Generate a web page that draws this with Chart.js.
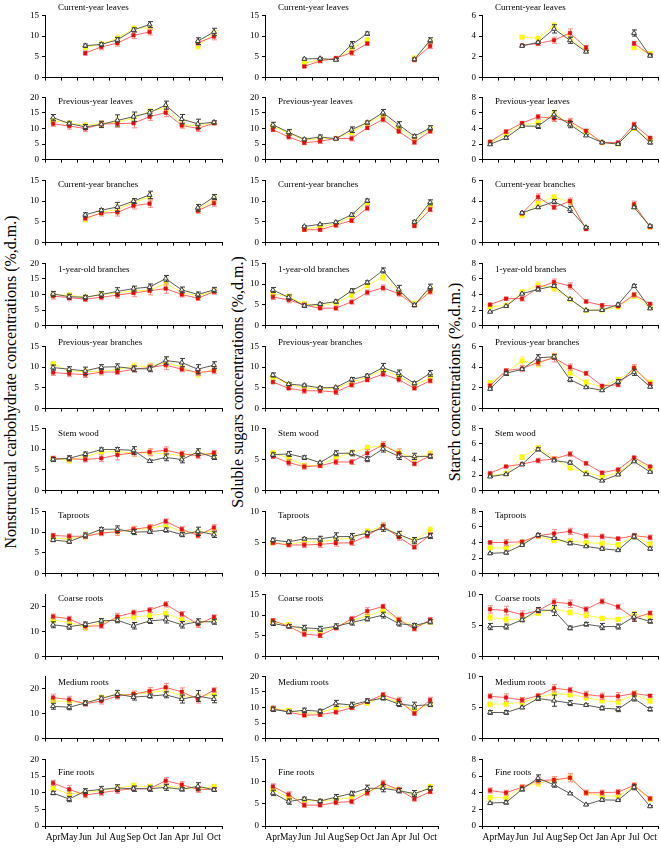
<!DOCTYPE html>
<html>
<head>
<meta charset="utf-8">
<script src="https://cdn.jsdelivr.net/npm/chart.js@4.4.0/dist/chart.umd.min.js"></script>
<style>
body { margin: 0; background: #fff; }
#wrap { position: relative; width: 661px; height: 850px; overflow: hidden; font-family: 'Liberation Serif', 'Times New Roman', serif; color: #000; }
.panel { position: absolute; }
.ptitle { position: absolute; font-size: 9px; line-height: 1; white-space: nowrap; }
.ytitle { position: absolute; font-size: 16px; line-height: 1; white-space: nowrap; transform: translate(-50%, -50%) rotate(-90deg); }
</style>
</head>
<body>
<div id="wrap"></div>
<script>
const _ = null;
const months = ['Apr', 'May', 'Jun', 'Jul', 'Aug', 'Sep', 'Oct', 'Jan', 'Apr', 'Jul', 'Oct'];
const organs = ['Current-year leaves', 'Previous-year leaves', 'Current-year branches', '1-year-old branches',
    'Previous-year branches', 'Stem wood', 'Taproots', 'Coarse roots', 'Medium roots', 'Fine roots'];

const yTitles = ['Nonstructural carbohydrate concentrations (%,d.m.)', 'Soluble sugars concentrations (%,d.m.)', 'Starch concentrations (%,d.m.)'];

const nscMax = [15, 20, 15, 20, 15, 15, 15, 25, 25, 20];
const nscStep = [5, 5, 5, 5, 5, 5, 5, 5, 5, 5];
const ssMax = [15, 20, 15, 15, 15, 10, 10, 15, 20, 15];
const ssStep = [5, 5, 5, 5, 5, 5, 5, 5, 5, 5];
const starchMax = [6, 8, 6, 8, 6, 8, 8, 10, 10, 8];
const starchStep = [2, 2, 2, 2, 2, 2, 2, 5, 5, 2];

// nonstructural carbohydrates
const nscRed = [
    [_, _, 5.9, 7.4, 8.3, 10.2, 11.0, _, _, 8.4, 9.9],
    [11.5, 10.8, 10.0, 11.4, 11.6, 11.7, 13.8, 15.1, 11.0, 10.0, 11.7],
    [_, _, 5.9, 7.1, 7.3, 8.9, 9.4, _, _, 7.7, 9.5],
    [9.5, 9.0, 8.5, 9.1, 9.8, 10.5, 11.2, 11.9, 10.0, 8.8, 10.9],
    [8.7, 8.4, 8.2, 8.8, 8.8, 9.5, 9.9, 10.5, 9.5, 8.7, 9.1],
    [7.8, 7.7, 7.5, 7.8, 8.6, 9.1, 9.3, 9.75, 8.9, 8.4, 9.1],
    [9.2, 9.0, 9.0, 9.75, 10.1, 10.7, 11.2, 12.6, 10.7, 9.2, 11.1],
    [16.1, 15.2, 12.2, 12.4, 16.1, 17.7, 18.7, 21.0, 17.1, 13.0, 15.9],
    [16.5, 15.7, 14.0, 15.1, 17.1, 17.9, 19.1, 20.6, 18.8, 15.9, 19.5],
    [12.9, 11.0, 9.3, 10.0, 10.7, 11.2, 11.2, 13.6, 12.4, 11.0, 11.0]
];
const nscYellow = [
    [_, _, 7.2, 8.1, 9.5, 11.9, 12.0, _, _, 7.6, 10.7],
    [12.6, 11.8, 11.0, 11.6, 12.1, 13.3, 15.5, 16.6, 11.4, 10.8, 11.8],
    [_, _, 5.5, 7.3, 8.0, 9.7, 11.0, _, _, 7.9, 10.4],
    [9.9, 9.8, 9.1, 10.0, 10.5, 11.2, 11.4, 13.5, 10.7, 9.5, 11.2],
    [10.8, 9.1, 8.9, 9.0, 9.4, 10.2, 10.2, 11.1, 10.0, 8.3, 9.6],
    [7.7, 7.3, 8.2, 9.3, 9.4, 9.1, 9.1, 8.9, 8.4, 9.1, 8.6],
    [8.6, 8.3, 9.1, 9.8, 10.2, 10.6, 10.9, 11.6, 10.1, 10.0, 10.2],
    [14.6, 13.8, 11.6, 13.8, 15.2, 15.9, 16.5, 17.3, 14.9, 13.4, 14.6],
    [15.2, 14.9, 14.3, 16.5, 17.7, 17.7, 18.5, 19.4, 17.3, 16.7, 17.9],
    [11.4, 9.6, 10.0, 10.7, 11.4, 12.1, 11.8, 12.1, 11.5, 11.2, 11.9]
];
const nscGray = [
    [_, _, 7.7, 8.0, 9.1, 11.5, 12.8, _, _, 8.8, 11.0],
    [13.5, 11.6, 10.5, 11.3, 12.6, 13.8, 15.1, 17.5, 13.0, 11.5, 12.0],
    [_, _, 6.7, 7.8, 8.6, 10.0, 11.5, _, _, 8.4, 11.0],
    [10.2, 9.3, 9.1, 10.0, 11.0, 11.9, 12.4, 15.1, 11.5, 10.0, 11.5],
    [9.9, 9.5, 9.1, 10.0, 10.1, 9.6, 9.6, 11.6, 11.1, 9.5, 10.5],
    [7.5, 7.8, 8.8, 9.9, 9.9, 9.7, 7.1, 8.0, 7.5, 9.3, 8.0],
    [8.1, 7.7, 9.2, 10.7, 10.7, 10.0, 10.1, 10.5, 9.4, 10.2, 9.4],
    [12.8, 12.0, 13.0, 14.4, 14.6, 12.4, 14.3, 14.9, 12.8, 14.0, 14.0],
    [13.0, 12.6, 14.3, 16.1, 17.9, 16.7, 17.1, 17.6, 15.9, 17.1, 15.9],
    [9.9, 8.1, 10.5, 11.0, 11.4, 11.2, 11.2, 11.6, 11.0, 11.9, 10.9]
];
const nscRedErr = [
    [_, _, .5, .7, .7, .8, .7, _, _, .6, .8],
    [.8, 1, 1, 1, 1.3, 1.5, 1.2, 1.3, .9, 1, .5],
    [_, _, .6, .7, .9, .8, .9, _, _, .6, .7],
    [1, 1, .8, .8, 1, 1.2, 1.3, 1.5, .8, .7, .8],
    [.7, .7, .7, .7, .5, .7, .8, 1.1, .6, .7, .7],
    [.5, .6, .6, .8, 1.2, .8, .8, .8, .6, .6, .6],
    [.5, .6, .6, .6, .9, .7, .6, .6, .6, .6, .7],
    [1, 1, 1.2, 1, 1.3, 1, 1, 1.1, 1, 1.3, .8],
    [1.4, 1.3, 1, 1.2, 1.2, 1.2, 1.4, 1.6, 1.6, 1.6, .9],
    [.8, 1.2, .8, .9, .9, .7, .6, .9, .9, .9, .5]
];
const nscYellowErr = [
    [_, _, .5, .5, .8, .6, .6, _, _, .7, .6],
    [.8, .6, 1, 1, 1.5, 1.5, .8, 1.2, 1, 1, .5],
    [_, _, .5, .7, 1.2, .9, 1, _, _, .7, .8],
    [1, .8, .8, .8, 1, 1, 1.5, 1.5, 1, .8, .8],
    [.6, .7, .7, .7, .8, .8, .8, 1.2, .8, .8, .8],
    [.5, .7, .5, .7, .6, .9, .8, .6, .6, .5, .6],
    [.6, .8, 1, .6, .7, .8, .7, .8, .5, .6, .6],
    [1.2, 1.2, 1.1, 1.1, 1.2, 1.5, 1.5, 1.8, 1.2, 1.1, 1],
    [1.3, 1.2, 1, 1, 1.1, 1.2, 1.2, 1.5, 1.3, 1.5, 1.2],
    [.8, .9, .7, .6, .8, .8, .8, .8, .6, .6, .5]
];
const nscGrayErr = [
    [_, _, .4, .4, .6, .5, .7, _, _, .8, .9],
    [1, .5, .8, 1, 1.8, 1.5, 1, 1.3, 1.5, 1.5, .5],
    [_, _, .5, .4, 1.1, .6, .9, _, _, .8, .6],
    [.8, .8, .6, .9, 1.2, .8, 1, 1, .9, .8, .8],
    [.6, .6, .9, .6, .7, .7, .7, .9, 1, 1.1, .8],
    [.5, .6, .5, .4, .5, .9, .3, .8, .8, .8, .5],
    [.4, .4, .6, .4, .8, .6, .4, .5, .5, 1, .7],
    [1.2, 1, .9, .9, 1, 1.3, 1, 1.4, 1.3, 1.2, 1],
    [1.2, 1, .9, 1, 1.5, 1.2, .8, 1.2, 1.6, 2.2, 1.5],
    [.5, .8, .7, .9, 1, .8, .8, .9, .5, 1.1, .5]
];

// soluble sugars
const ssRed = [
    [_, _, 2.7, 4.0, 4.7, 6.0, 8.2, _, _, 4.3, 7.6],
    [9.6, 7.3, 5.4, 5.9, 6.8, 6.8, 10.2, 12.9, 9.1, 5.6, 9.1],
    [_, _, 3.1, 3.1, 4.2, 5.3, 8.3, _, _, 4.0, 8.0],
    [6.9, 6.2, 4.95, 4.2, 4.2, 5.7, 8.0, 9.1, 7.7, 4.95, 8.2],
    [6.4, 4.9, 4.3, 4.3, 4.0, 5.7, 6.9, 8.3, 7.0, 4.9, 6.7],
    [5.5, 4.5, 3.85, 4.0, 4.6, 4.6, 6.0, 7.35, 6.0, 4.3, 5.6],
    [4.95, 4.6, 4.6, 4.7, 4.9, 4.95, 6.1, 7.65, 5.85, 4.25, 6.2],
    [8.7, 7.3, 5.4, 5.1, 6.9, 9.1, 11.0, 12.1, 8.9, 6.7, 8.9],
    [9.7, 8.5, 7.5, 7.7, 8.5, 9.9, 11.9, 14.1, 12.3, 8.1, 12.4],
    [8.9, 7.1, 4.7, 4.7, 5.3, 5.5, 7.45, 9.6, 8.2, 6.1, 7.7]
];
const ssYellow = [
    [_, _, 3.5, 4.3, 4.5, 6.9, 9.1, _, _, 4.7, 8.6],
    [10.7, 8.5, 6.3, 6.8, 6.8, 8.8, 11.7, 14.1, 10.2, 6.8, 9.8],
    [_, _, 3.3, 3.8, 4.5, 6.2, 9.5, _, _, 4.5, 9.1],
    [7.7, 7.0, 5.2, 4.7, 5.5, 7.3, 9.7, 11.7, 8.2, 5.3, 8.7],
    [7.6, 5.9, 4.9, 4.9, 4.9, 6.4, 7.6, 9.3, 7.8, 5.6, 7.4],
    [6.06, 5.2, 4.0, 4.1, 5.3, 6.06, 6.9, 7.2, 6.15, 5.2, 5.9],
    [4.95, 4.7, 5.1, 5.1, 5.5, 5.7, 6.8, 7.6, 6.2, 5.3, 7.0],
    [8.4, 7.7, 6.4, 6.1, 7.1, 8.7, 9.8, 11.1, 8.9, 7.3, 8.3],
    [9.7, 9.1, 8.1, 8.3, 9.9, 10.3, 11.4, 13.4, 11.6, 9.1, 11.1],
    [8.2, 6.4, 5.8, 5.6, 6.0, 6.4, 7.7, 8.9, 8.2, 6.9, 8.9]
];
const ssGray = [
    [_, _, 4.5, 4.6, 4.3, 7.9, 10.6, _, _, 4.4, 9.0],
    [11.2, 8.8, 6.5, 7.3, 6.7, 9.6, 11.9, 15.1, 11.2, 7.5, 10.2],
    [_, _, 3.9, 4.4, 4.9, 6.7, 10.1, _, _, 5.0, 9.7],
    [8.6, 6.8, 4.8, 5.2, 5.8, 8.4, 10.4, 13.3, 8.7, 4.95, 9.3],
    [8.1, 5.9, 5.6, 5.0, 5.1, 7.0, 7.9, 9.9, 8.5, 6.1, 8.5],
    [5.77, 5.9, 5.3, 4.5, 6.0, 6.0, 5.05, 6.7, 5.5, 5.5, 5.5],
    [5.4, 5.1, 5.6, 5.6, 5.95, 5.95, 6.5, 7.3, 6.3, 5.3, 6.05],
    [8.0, 7.3, 6.95, 6.7, 7.3, 8.2, 9.1, 10.0, 7.97, 7.5, 8.4],
    [9.4, 8.6, 9.1, 8.8, 11.3, 10.8, 12.1, 13.0, 11.1, 10.6, 10.9],
    [7.45, 5.5, 6.1, 5.6, 6.5, 7.3, 8.5, 8.5, 7.95, 7.3, 8.5]
];
const ssRedErr = [
    [_, _, .3, .4, .4, .6, .4, _, _, .5, .6],
    [.6, .7, .6, .7, .5, .8, .5, .8, .7, .7, .6],
    [_, _, .4, .3, .5, .5, .6, _, _, .3, .5],
    [.6, .7, .5, .4, .5, .5, .6, .7, .6, .4, .6],
    [.4, .4, .6, .5, .6, .5, .4, .6, .6, .4, .5],
    [.3, .5, .4, .3, .4, .4, .6, .5, .7, .3, .4],
    [.3, .3, .4, .5, .5, .4, .4, .5, .5, .3, .4],
    [.5, .5, .6, .5, .5, .6, .8, .5, .6, .5, .5],
    [.8, .6, .6, .6, .6, .6, .6, .7, 1, .6, .9],
    [.6, .6, .5, .4, .5, .5, .6, .7, .5, .5, .4]
];
const ssYellowErr = [
    [_, _, .4, .3, .3, .9, .5, _, _, .5, .5],
    [.6, .8, .6, .7, .5, .8, .5, .9, .8, .7, .6],
    [_, _, .3, .4, .4, .5, .5, _, _, .4, .6],
    [.5, .7, .6, .5, .5, .6, .6, .8, .7, .6, .7],
    [.4, .4, .5, .5, .5, .5, .4, .6, .6, .4, .5],
    [.4, .5, .4, .3, .6, .5, .4, .6, .6, .5, .5],
    [.3, .3, .4, .4, .5, .4, .4, .6, .6, .5, .5],
    [.5, .5, .6, .6, .5, .6, .8, .7, .6, .5, .5],
    [.8, .6, .9, .8, 1, .9, .8, .8, .9, .8, .7],
    [.5, .5, .5, .4, .4, .5, .6, .6, .5, .5, .4]
];
const ssGrayErr = [
    [_, _, .2, .3, .3, .8, .4, _, _, .3, .6],
    [.8, .9, .4, .6, .3, .9, .5, 1, 1, .6, .7],
    [_, _, .2, .2, .3, .4, .4, _, _, .3, .6],
    [.6, .6, .4, .3, .4, .5, .4, .6, 1, .4, .7],
    [.5, .3, .3, .3, .3, .5, .4, 1, .8, .4, .7],
    [.3, .4, .3, .2, .4, .4, .4, .5, .5, .5, .3],
    [.3, .3, .2, .4, .6, .5, .3, .5, .5, .5, .4],
    [.5, .4, .6, .6, .6, .6, .5, .7, .6, .5, .5],
    [.7, .5, .7, .6, 1, .9, .7, .6, .8, 1.1, .6],
    [.6, .6, .4, .4, .6, .5, .7, .8, .5, .7, .4]
];

// starch
const starchRed = [
    [_, _, 3.1, 3.3, 3.6, 4.3, 2.9, _, _, 3.3, 2.2],
    [2.3, 3.6, 4.7, 5.5, 5.3, 4.9, 3.7, 2.2, 2.2, 4.5, 2.8],
    [_, _, 2.8, 4.4, 3.4, 4.0, 1.3, _, _, 3.7, 1.5],
    [2.7, 3.46, 3.46, 4.85, 5.6, 5.1, 3.1, 2.6, 2.5, 3.96, 2.8],
    [2.2, 3.66, 3.86, 4.45, 4.9, 4.0, 3.4, 2.2, 2.3, 3.95, 2.4],
    [2.24, 3.1, 3.4, 3.86, 4.05, 4.7, 3.5, 2.3, 2.7, 4.25, 3.1],
    [4.0, 4.0, 4.1, 4.88, 5.16, 5.43, 4.84, 4.77, 4.5, 4.88, 4.65],
    [7.6, 7.4, 6.75, 7.4, 8.77, 8.5, 7.6, 8.87, 8.0, 6.16, 7.0],
    [6.8, 6.6, 6.2, 6.9, 8.1, 7.8, 7.1, 6.8, 6.8, 7.25, 6.9],
    [4.26, 4.0, 4.65, 5.47, 5.54, 5.8, 4.0, 4.0, 4.07, 4.88, 3.3]
];
const starchYellow = [
    [_, _, 3.9, 3.8, 5.0, 3.8, 2.6, _, _, 2.9, 2.3],
    [2.2, 3.2, 4.5, 4.7, 5.96, 4.6, 3.6, 2.2, 2.0, 4.0, 2.5],
    [_, _, 2.6, 3.8, 4.4, 3.9, 1.4, _, _, 3.45, 1.5],
    [2.4, 2.6, 4.3, 5.2, 4.8, 3.4, 1.96, 2.0, 2.4, 3.8, 2.3],
    [2.5, 3.5, 4.6, 4.3, 5.06, 3.45, 2.55, 2.1, 2.8, 3.75, 2.55],
    [1.93, 2.2, 4.3, 5.5, 4.1, 2.9, 2.3, 1.8, 2.24, 3.9, 2.9],
    [3.3, 3.3, 4.06, 4.84, 4.26, 4.18, 3.98, 3.87, 3.7, 4.77, 3.8],
    [6.3, 6.0, 6.0, 7.0, 7.7, 7.1, 6.65, 6.16, 6.0, 6.8, 6.4],
    [5.5, 5.6, 5.8, 6.6, 7.2, 7.1, 6.6, 6.1, 5.9, 7.1, 6.06],
    [3.4, 3.4, 4.65, 5.15, 5.47, 5.8, 4.0, 3.6, 3.6, 4.77, 3.2]
];
const starchGray = [
    [_, _, 3.06, 3.4, 4.7, 3.6, 2.5, _, _, 4.3, 2.1],
    [1.96, 2.8, 4.3, 4.3, 5.8, 4.5, 3.1, 2.2, 2.0, 4.1, 2.2],
    [_, _, 2.87, 3.4, 3.95, 3.2, 1.46, _, _, 3.4, 1.6],
    [1.77, 2.5, 4.1, 4.65, 5.1, 3.4, 1.96, 2.0, 2.7, 5.1, 2.2],
    [1.9, 3.4, 3.8, 4.9, 5.0, 2.8, 2.05, 1.76, 2.6, 3.5, 2.1],
    [1.8, 2.1, 3.36, 5.3, 3.86, 3.6, 2.1, 1.27, 2.05, 3.75, 2.4],
    [2.6, 2.7, 3.67, 4.96, 4.57, 3.9, 3.5, 3.2, 3.0, 4.77, 3.2],
    [4.83, 4.83, 5.9, 7.5, 7.4, 4.6, 5.2, 4.83, 4.83, 6.4, 5.67],
    [4.2, 4.2, 5.0, 6.45, 6.1, 5.7, 5.4, 4.9, 4.73, 6.45, 4.73],
    [2.75, 2.83, 4.4, 5.74, 4.96, 3.9, 2.56, 3.14, 3.1, 4.65, 2.36]
];
const starchRedErr = [
    [_, _, .1, .2, .3, .4, .2, _, _, .2, .1],
    [.1, .2, .2, .3, .4, .4, .2, .1, .1, .3, .1],
    [_, _, .1, .3, .2, .3, .1, _, _, .3, .1],
    [.1, .2, .3, .3, .4, .4, .2, .2, .1, .3, .1],
    [.2, .2, .3, .3, .4, .3, .2, .1, .2, .3, .1],
    [.1, .1, .2, .3, .3, .3, .2, .2, .1, .1, .1],
    [.2, .4, .2, .3, .5, .4, .3, .3, .2, .3, .3],
    [.6, .7, .6, .4, .5, .6, .4, .4, .4, .5, .3],
    [.4, .6, .4, .3, .6, .4, .5, .5, .6, .4, .2],
    [.3, .3, .3, .4, .4, .5, .3, .3, .3, .3, .2]
];
const starchYellowErr = [
    [_, _, .1, .1, .3, .2, .1, _, _, .1, .1],
    [.1, .2, .2, .3, .3, .3, .2, .1, .1, .2, .1],
    [_, _, .1, .2, .2, .2, .1, _, _, .2, .1],
    [.1, .2, .3, .4, .4, .2, .1, .1, .1, .3, .1],
    [.1, .2, .4, .3, .3, .3, .2, .1, .2, .3, .1],
    [.1, .1, .3, .3, .2, .2, .1, .1, .1, .2, .1],
    [.2, .2, .2, .3, .3, .3, .2, .3, .3, .3, .3],
    [.5, .5, .4, .4, .4, .4, .4, .3, .3, .4, .4],
    [.4, .4, .4, .3, .5, .4, .4, .4, .4, .4, .4],
    [.3, .3, .3, .4, .4, .4, .3, .3, .3, .3, .2]
];
const starchGrayErr = [
    [_, _, .1, .1, .4, .3, .1, _, _, .3, .1],
    [.1, .2, .1, .3, .5, .4, .1, .1, .1, .2, .2],
    [_, _, .1, .1, .2, .3, .1, _, _, .1, .1],
    [.1, .1, .1, .2, .2, .1, .1, .1, .2, .2, .1],
    [.1, .2, .1, .3, .2, .2, .1, .1, .2, .3, .1],
    [.1, .1, .1, .2, .1, .2, .1, .1, .1, .1, .1],
    [.1, .2, .1, .2, .1, .2, .1, .2, .1, .3, .2],
    [.5, .4, .3, .4, .8, .3, .3, .5, .4, .7, .3],
    [.3, .3, .2, .3, .9, .4, .2, .3, .4, .4, .3],
    [.1, .2, .2, .4, .3, .1, .1, .2, .1, .3, .1]
];

// layout
const colLeft = [45, 265, 482];
const colRight = [222, 438, 658];
const rowTop0 = 12.7, rowStep = 82.7, plotH = 68.5;
const titleOffset = [-5, 6, 6, 9, -1, 7, 7, 7, 8, 15];
const yTitleX = [11, 238, 455];
const YW = 30, PT = 6, PR = 4;
const FONT = "'Liberation Serif', 'Times New Roman', serif";

const columns = [
    { max: nscMax, step: nscStep, red: nscRed, yellow: nscYellow, gray: nscGray, redErr: nscRedErr, yellowErr: nscYellowErr, grayErr: nscGrayErr },
    { max: ssMax, step: ssStep, red: ssRed, yellow: ssYellow, gray: ssGray, redErr: ssRedErr, yellowErr: ssYellowErr, grayErr: ssGrayErr },
    { max: starchMax, step: starchStep, red: starchRed, yellow: starchYellow, gray: starchGray, redErr: starchRedErr, yellowErr: starchYellowErr, grayErr: starchGrayErr }
];

const errorBars = {
    id: 'errorBars',
    beforeDatasetDraw(chart, args) {
        const ds = chart.data.datasets[args.index];
        const y = chart.scales.y;
        const ctx = chart.ctx;
        ctx.save();
        ctx.strokeStyle = ds.errColor;
        ctx.lineWidth = 1;
        args.meta.data.forEach((pt, i) => {
            const v = ds.data[i], e = ds.err[i];
            if (v == null || e == null) return;
            const x = Math.round(pt.x) + 0.5;
            const y1 = y.getPixelForValue(v + e), y2 = y.getPixelForValue(v - e);
            ctx.beginPath();
            ctx.moveTo(x, y1); ctx.lineTo(x, y2);
            ctx.moveTo(x - 2.5, y1); ctx.lineTo(x + 2.5, y1);
            ctx.moveTo(x - 2.5, y2); ctx.lineTo(x + 2.5, y2);
            ctx.stroke();
        });
        ctx.restore();
    }
};

const wrap = document.getElementById('wrap');

yTitles.forEach((t, c) => {
    const d = document.createElement('div');
    d.className = 'ytitle';
    d.textContent = t;
    d.style.left = yTitleX[c] + 'px';
    d.style.top = '382px';
    wrap.appendChild(d);
});

function crearPanel(c, r) {
    const col = columns[c];
    const last = r === organs.length - 1;
    const XH = last ? 22 : 4;
    const top = rowTop0 + rowStep * r;
    const plotW = colRight[c] - colLeft[c];
    const W = Math.round(plotW + YW + PR);
    const H = Math.round(PT + plotH + XH);

    const box = document.createElement('div');
    box.className = 'panel';
    box.style.left = (colLeft[c] - YW) + 'px';
    box.style.top = Math.round(top - PT) + 'px';
    const cv = document.createElement('canvas');
    cv.width = W; cv.height = H;
    cv.style.width = W + 'px'; cv.style.height = H + 'px';
    box.appendChild(cv);
    wrap.appendChild(box);

    const t = document.createElement('div');
    t.className = 'ptitle';
    t.textContent = organs[r];
    t.style.left = (colLeft[c] + 13) + 'px';
    t.style.top = (top + titleOffset[r] - 4.5) + 'px';
    wrap.appendChild(t);

    new Chart(cv, {
        type: 'line',
        data: {
            labels: months,
            datasets: [
                { data: col.gray[r], err: col.grayErr[r], errColor: '#3a3a3a', borderColor: '#5c5c52', borderWidth: 1,
                  pointStyle: 'triangle', pointRadius: 2.8, pointBackgroundColor: '#fff', pointBorderColor: '#3a3a3a', pointBorderWidth: 1 },
                { data: col.red[r], err: col.redErr[r], errColor: '#ff8c8c', borderColor: '#ff6464', borderWidth: 1,
                  pointStyle: 'rect', pointRadius: 2.5, pointBackgroundColor: '#e01010', pointBorderColor: '#e01010', pointBorderWidth: 0.5 },
                { data: col.yellow[r], err: col.yellowErr[r], errColor: '#f8f080', borderColor: '#ffff50', borderWidth: 1,
                  pointStyle: 'rect', pointRadius: 3.1, pointBackgroundColor: '#ffff00', pointBorderColor: '#f4e400', pointBorderWidth: 0.5 }
            ]
        },
        options: {
            responsive: false,
            animation: false,
            devicePixelRatio: 1,
            spanGaps: false,
            layout: { padding: { top: PT, right: PR, left: 0, bottom: 0 }, autoPadding: false },
            plugins: { legend: { display: false }, tooltip: { enabled: false } },
            scales: {
                x: {
                    type: 'category',
                    offset: true,
                    grid: { offset: true, drawOnChartArea: false, drawTicks: true, tickLength: 3, color: '#000', lineWidth: 1 },
                    border: { color: '#000', width: 1 },
                    ticks: { display: last, autoSkip: false, maxRotation: 0, padding: 3, color: '#000', font: { family: FONT, size: 9.5 } },
                    afterFit: s => { s.height = XH; }
                },
                y: {
                    min: 0,
                    max: col.max[r],
                    grid: { drawOnChartArea: false, drawTicks: true, tickLength: 3, color: '#000', lineWidth: 1 },
                    border: { color: '#000', width: 1 },
                    ticks: { stepSize: col.step[r], padding: 3, color: '#000', font: { family: FONT, size: 9 } },
                    afterFit: s => { s.width = YW; }
                }
            }
        },
        plugins: [errorBars]
    });
}

for (let r = 0; r < organs.length; r++) {
    for (let c = 0; c < 3; c++) crearPanel(c, r);
}
</script>
</body>
</html>
